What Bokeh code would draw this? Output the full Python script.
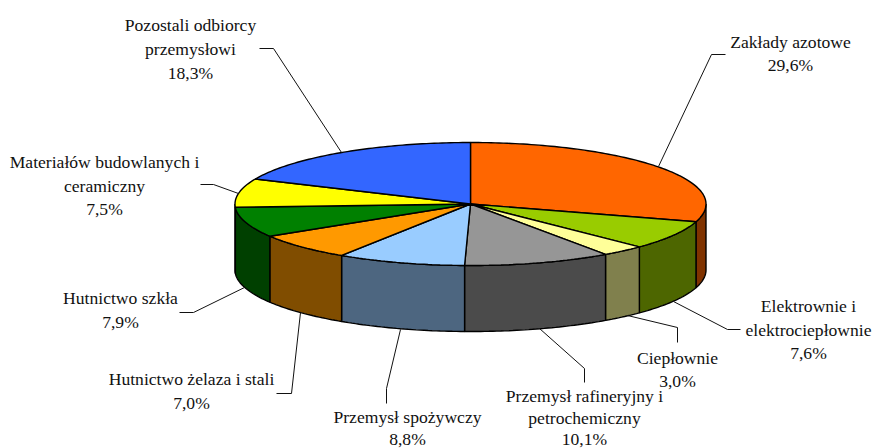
import numpy as np
from bokeh.plotting import figure
from bokeh.models import Range1d
from bokeh.core.properties import value
from bokeh.embed import file_html
from bokeh.resources import INLINE

# ---- data ----
categories = [
    ["Zakłady azotowe"],
    ["Elektrownie i", "elektrociepłownie"],
    ["Ciepłownie"],
    ["Przemysł rafineryjny i", "petrochemiczny"],
    ["Przemysł spożywczy"],
    ["Hutnictwo żelaza i stali"],
    ["Hutnictwo szkła"],
    ["Materiałów budowlanych i", "ceramiczny"],
    ["Pozostali odbiorcy", "przemysłowi"],
]
shares = [29.6, 7.6, 3.0, 10.1, 8.8, 7.0, 7.9, 7.5, 18.3]
top_colors = ["#ff6600", "#99cc00", "#ffff99", "#969696", "#99ccff",
              "#ff9900", "#008000", "#ffff00", "#3366ff"]
side_colors = ["#803300", "#4d6600", "#80804d", "#4b4b4b", "#4d6680",
               "#804d00", "#004000", "#808000", "#1a3380"]

# ---- layout ----
CX, CY, RX, RY, DEPTH = 470.0, 203.5, 235.5, 61.5, 66.0
LABEL_CX = [790, 808, 677, 584, 407, 191, 120, 104, 190]
LABEL_Y = [[41, 64], [305, 329, 352], [357, 380], [395, 417, 438], [416, 438],
           [378, 402], [297, 321], [161, 185, 208], [24, 48, 72]]
LEADERS = [
    [(725, 54), (711, 54), (658, 166)],
    [(673, 301), (727, 329), (740, 329)],
    [(627, 315), (677, 327), (677, 342)],
    [(539, 328), (584, 368), (584, 382)],
    [(400, 329), (386, 388), (386, 403)],
    [(300, 312), (291, 393), (276, 393)],
    [(244, 287), (193, 312), (179, 312)],
    [(238, 193), (213, 184), (200, 184)],
    [(341, 152), (273, 48), (259, 48)],
]
FONT = "Liberation Serif"
FONT_SIZE = "17.6px"


def arc(a0, a1, dy=0.0):
    n = max(2, int(abs(a1 - a0) / 1.0) + 2)
    t = np.radians(np.linspace(a0, a1, n))
    return CX + RX * np.sin(t), CY - RY * np.cos(t) + dy


p = figure(width=872, height=448, x_range=Range1d(0, 872), y_range=Range1d(448, 0),
           output_backend="svg", toolbar_location=None, min_border=0,
           outline_line_color=None, background_fill_color="white")
p.xaxis.visible = False
p.yaxis.visible = False
p.grid.visible = False

total = sum(shares)
edges = np.concatenate([[0.0], np.cumsum(shares)]) / total * 360.0

# side walls (only the front half of the disc is visible)
for i in range(len(shares)):
    a0, a1 = max(edges[i], 90.0), min(edges[i + 1], 270.0)
    if a1 <= a0:
        continue
    x0, y0 = arc(a0, a1)
    x1, y1 = arc(a1, a0, DEPTH)
    p.patch(np.concatenate([x0, x1]), np.concatenate([y0, y1]),
            fill_color=side_colors[i], line_color="black", line_width=1.4)

# top faces
for i in range(len(shares)):
    xs, ys = arc(edges[i], edges[i + 1])
    p.patch(np.concatenate([[CX], xs]), np.concatenate([[CY], ys]),
            fill_color=top_colors[i], line_color="black", line_width=1.4)

# leader lines
for pts in LEADERS:
    p.line([q[0] for q in pts], [q[1] for q in pts], line_color="#111111", line_width=1.0)

# labels
for names, v, cx, ys in zip(categories, shares, LABEL_CX, LABEL_Y):
    lines = list(names) + [f"{v:.1f}".replace(".", ",") + "%"]
    p.text([cx] * len(lines), ys, text=lines, text_font=value(FONT), text_font_size=FONT_SIZE,
           text_color="#111111", text_align="center", text_baseline="middle")

open("out.html", "w").write(file_html(p, INLINE))
